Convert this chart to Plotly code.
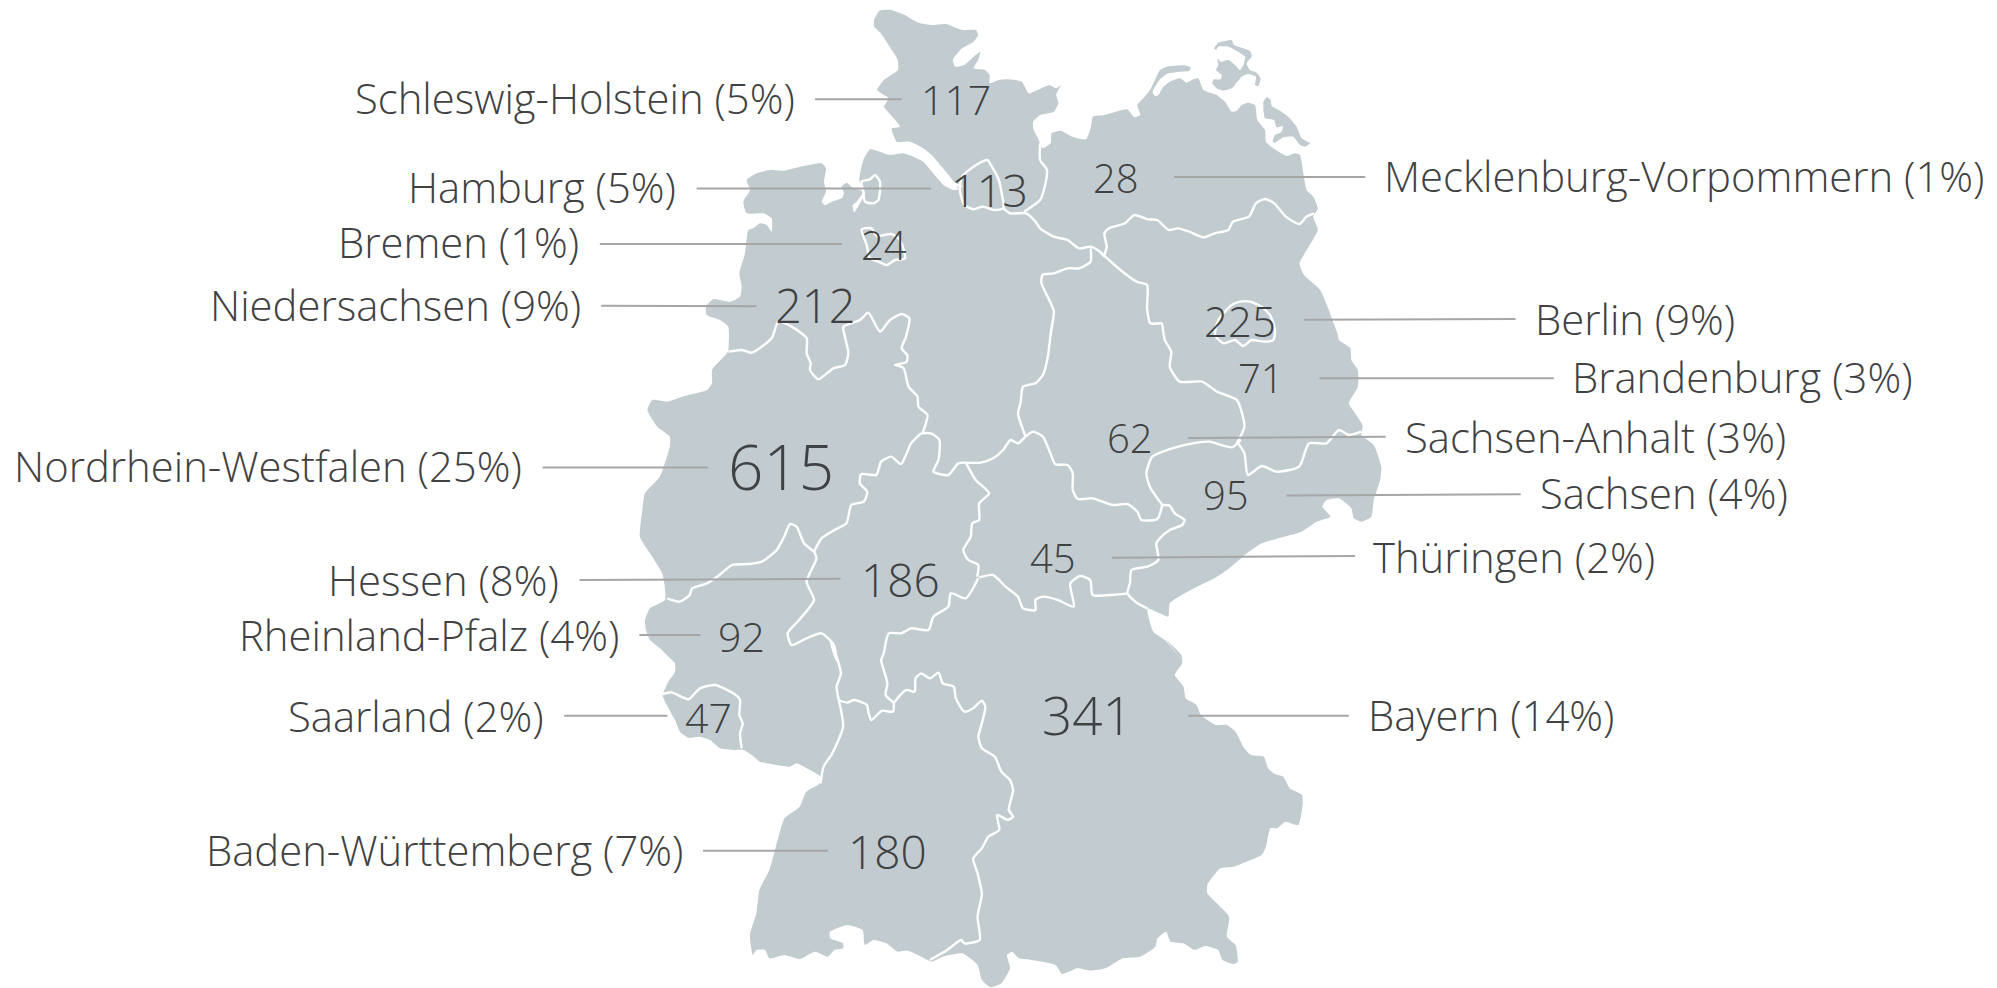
import plotly.graph_objects as go

# ---- statistics ----
STATES = ["Schleswig-Holstein", "Hamburg", "Bremen", "Niedersachsen", "Nordrhein-Westfalen", "Hessen",
          "Rheinland-Pfalz", "Saarland", "Baden-Württemberg", "Mecklenburg-Vorpommern", "Berlin",
          "Brandenburg", "Sachsen-Anhalt", "Sachsen", "Thüringen", "Bayern"]
COUNTS = [117, 113, 24, 212, 615, 186, 92, 47, 180, 28, 225, 71, 62, 95, 45, 341]
SHARES = [5, 5, 1, 9, 25, 8, 4, 2, 7, 1, 9, 3, 3, 4, 2, 14]

# ---- label layout, in page pixels (reference 1568-wide view, scaled below) ----
SIDE = ["l", "l", "l", "l", "l", "l", "l", "l", "l", "r", "r", "r", "r", "r", "r", "r"]
LABEL_X = [624, 531, 455, 456, 410, 439, 486, 427, 536, 1087, 1205, 1234, 1103, 1209, 1078, 1074]
LABEL_Y = [78, 148, 191, 240, 367, 456, 499, 563, 668, 139, 251, 297, 344, 388, 438, 562]
NUM_X = [751, 777, 694, 640, 613, 707, 582, 556, 697, 876, 974, 990, 887, 963, 827, 853.5]
NUM_Y = [78, 149, 192, 239.5, 366, 454.5, 499, 563, 668, 139.5, 251.5, 296.5, 343.5, 388.5, 438, 561]
NUM_SIZE = [41, 45, 40, 47, 62, 46, 41, 41, 46, 40, 42, 40, 40, 40, 40, 53]
LEAD_X0 = [640, 547, 471, 472, 426, 455, 502, 443, 552, 922, 1024, 1036, 933, 1010, 873, 933]
LEAD_X1 = [708, 731, 661, 594, 556, 660, 550, 524, 650, 1072, 1190, 1220, 1088, 1194, 1064, 1059]
LEAD_Y0 = [78, 148, 191.5, 240, 367, 455.5, 498.5, 562, 668, 139, 251, 297, 344, 389, 438, 562]
LEAD_Y1 = [78, 148, 191.5, 240.5, 367, 454.5, 498.5, 562, 668, 139, 250.5, 297, 343, 388, 436.5, 562]

# ---- outline tracing frames: origin x, origin y, x scale, y scale ----
F1 = (620, 0, 2.178, 3)
F2 = (620, 320, 2.01, 3)
F3 = (700, 640, 2.306, 3)
F5 = (620, 560, 3, 3)
F6 = (700, 130, 3, 3)
F7 = (1130, 20, 3, 3)
F8 = (1180, 280, 3, 3)

def t(frame, pts):
    ox, oy, sx, sy = frame
    return [(ox + a / sx, oy + b / sy) for a, b in pts]

# ---- coast, clockwise from the north tip ----
COAST_NORTH = [(553,60),(565,32),(590,30),(620,45),(650,68),(680,75),(710,72),(745,90),(775,90),(780,105),(770,125),(745,145),(725,180),(730,200),(750,195),(770,170),(785,155),(780,180),(770,205),(795,210),(805,225),(805,250),(825,240),(845,238),(875,245),(890,280),(910,270),(935,255),(950,265),(960,255),(950,285),(955,310),(945,335),(915,345),(900,365),(900,385),(912,420),(920,445),(938,430),(940,400),(960,392),(985,410),(1015,418),(1025,385),(1030,350),(1055,345),(1080,335),(1105,328),(1120,352),(1133,345)]
COAST_DARSS = [(30,280),(22,255),(40,235),(60,210),(75,180),(90,150),(110,140),(160,136),(182,142),(178,152),(150,155),(115,160),(90,178),(68,215),(75,228),(85,225),(100,200),(120,185),(150,175),(170,188),(190,178),(205,175),(220,210),(260,225),(285,245),(305,275),(320,272),(335,255),(355,248),(375,255),(382,300),(405,330),(408,365),(430,385),(470,408),(495,400),(510,405),(520,460),(530,510)]
COAST_ODER_A = [(1510,590),(1520,625),(1510,650),(1520,690),(1500,740),(1480,790),(1490,825),(1525,870)]
COAST_ODER_B = [(1442,40),(1445,60),(1468,85),(1470,120),(1483,150),(1483,200),(1465,250),(1480,285),(1493,318),(1490,345),(1515,375),(1530,440),(1528,480),(1515,540),(1510,590),(1490,605),(1475,595),(1470,565),(1445,535),(1420,540),(1412,560),(1428,590),(1400,605),(1370,635),(1335,650),(1290,670),(1260,700),(1225,745),(1195,775),(1160,800),(1135,820),(1105,850),(1102,890),(1085,880),(1060,865),(1072,935),(1095,960),(1130,1020)]
COAST_SOUTH = [(1075,0),(1110,45),(1112,70),(1095,105),(1115,140),(1120,175),(1145,195),(1155,225),(1190,255),(1215,255),(1235,275),(1255,325),(1270,345),(1300,350),(1310,385),(1325,402),(1345,410),(1360,445),(1388,465),(1390,490),(1380,555),(1350,545),(1330,565),(1315,565),(1305,620),(1295,645),(1260,665),(1230,680),(1200,685),(1170,735),(1170,760),(1220,830),(1215,890),(1235,915),(1240,965),(1230,972),(1205,960),(1195,930),(1165,918),(1140,930),(1115,910),(1085,905),(1075,875),(1055,895),(1050,920),(1015,950),(975,955),(935,985),(900,992),(870,985),(835,1002),(820,975),(765,960),(735,955),(720,935),(708,945),(715,985),(695,1030),(670,1042),(650,1020),(640,975),(605,940),(560,950),(535,965),(525,960),(480,932),(455,935),(430,910),(400,900),(380,915),(375,870),(340,855),(300,875),(300,895),(330,910),(330,925),(310,930),(295,950),(265,935),(230,957),(195,945),(160,955),(150,930),(130,930),(122,945),(115,885),(130,820),(137,750),(160,690),(175,620),(195,535),(230,500),(245,455),(275,432),(278,410)]
COAST_SW = [(560,625),(530,610),(510,620),(470,615),(420,605),(395,585),(370,570),(340,570),(300,565),(270,540),(240,530),(205,533),(180,515),(165,480),(135,425),(128,405),(145,365),(165,335),(165,310),(150,295),(120,265),(90,240),(78,210),(75,180),(90,145),(135,120)]
COAST_WEST = [(90,800),(85,760),(65,710),(40,650),(45,570),(50,520),(80,470),(100,380),(100,350),(75,320),(55,270),(65,240),(95,245),(130,228),(175,210),(185,190),(185,150),(215,100)]
COAST_NW = [(85,660),(85,590),(60,570),(20,555),(18,530),(40,507),(90,515),(120,500),(125,470),(118,430),(135,370),(145,300),(160,295),(180,280),(200,285),(215,305),(215,265),(190,250),(140,250),(130,215),(150,180),(140,150),(170,130),(210,120),(250,122),(310,108),(365,100),(378,115),(372,155),(378,185),(365,215),(375,225),(395,215),(425,205),(432,190),(425,170),(440,158),(460,175),(490,185),(470,215),(458,225),(462,248),(480,220),(495,190),(478,150),(490,90),(510,58),(530,62),(570,75),(610,70),(640,80),(670,95),(700,130),(730,165),(760,180),(775,178),(750,140),(725,110),(700,80),(670,55),(630,35),(590,35),(575,0)]
COAST_SH_WEST = [(592,385),(610,380),(590,345),(575,320),(585,295),(560,270),(575,240),(605,210),(605,180),(585,135),(568,100),(553,80)]
RUEGEN = [(252,85),(265,68),(290,62),(305,60),(312,75),(340,85),(362,95),(365,110),(350,130),(360,150),(380,158),(392,175),(385,198),(375,195),(378,170),(355,162),(335,170),(322,185),(305,205),(280,212),(260,205),(247,190),(252,178),(272,178),(275,165),(258,150),(265,135),(262,115),(272,125),(295,120),(315,135),(330,150),(340,135),(345,110),(325,95),(295,80),(265,80),(258,90)]
USEDOM = [(400,245),(410,232),(422,240),(425,258),(450,272),(475,290),(500,320),(515,355),(540,370),(525,380),(510,375),(490,350),(460,352),(435,368),(428,365),(435,345),(455,335),(458,318),(440,322),(432,300),(405,295),(400,270)]

# ---- state borders ----
B_HAMBURG = [(745,530),(770,500),(800,480),(810,500),(825,540),(830,570),(835,625),(815,630),(790,620),(770,628),(750,615),(740,570),(745,530)]
B_ELBE_HH = [(725,550),(745,560)]
B_HH_EAST = [(835,625),(850,640),(885,640),(905,665),(915,685),(945,710),(975,720),(1000,745),(1025,740),(1045,755),(1055,770)]
B_SH_MV = [(880,635),(915,600),(925,560),(930,510),(915,480),(915,430)]
B_MV_BB = [(1055,765),(1060,740),(1055,700),(1065,685),(1100,670),(1120,645),(1150,658),(1170,660),(1195,690),(1215,685),(1240,695),(1270,712),(1295,700),(1325,690),(1335,665),(1370,650),(1385,610),(1405,597),(1425,610),(1450,650),(1480,672),(1495,650),(1512,640)]
B_NI_ST_A = [(1025,745),(1025,785),(1000,805),(975,805),(945,820),(920,825),(918,850),(935,900),(945,935),(938,1000)]
B_NI_ST_B = [(870,0),(865,50),(860,110),(850,165),(835,190),(810,200),(805,250),(800,280),(815,350)]
B_NI_TH = [(815,350),(800,370),(785,360),(770,390),(750,415),(725,428),(695,428)]
B_NI_HE = [(695,428),(680,430),(660,465),(630,455),(640,420),(642,360),(625,340),(605,340)]
B_ST_TH = [(815,350),(830,335),(850,350),(865,400),(875,433),(900,435),(910,460),(910,510),(920,537),(950,535),(990,555),(1020,552),(1040,575),(1048,600),(1080,597),(1090,555)]
B_ST_SN = [(1090,555),(1065,500),(1058,460),(1070,410),(1110,385),(1160,368),(1185,365),(1230,382),(1248,360)]
B_TH_SN = [(1090,555),(1105,557),(1115,580),(1135,600),(1130,615),(1105,630),(1085,655),(1078,670),(1082,720),(1060,740),(1028,750),(1025,790),(1020,820),(1040,850),(1060,865)]
B_TH_BY = [(1020,820),(985,825),(950,825),(945,780),(925,768),(905,790),(912,860),(880,840),(850,830),(835,840),(835,870),(810,865),(800,830),(775,800),(750,765),(722,772)]
B_HE_TH = [(695,428),(715,480),(742,520),(722,550),(722,600),(708,610),(705,650),(690,690),(700,720),(720,735),(718,770)]
B_HE_BY_A = [(720,775),(695,835),(665,820),(660,860),(630,890),(620,930),(585,925),(565,940),(540,940),(530,1000),(525,1020)]
B_HE_BY_B = [(418,65),(432,130),(428,165),(447,188)]
B_BW_BY = [(447,188),(475,150),(495,155),(497,115),(510,100),(530,115),(550,98),(560,130),(585,140),(590,175),(610,215),(630,205),(650,182),(658,200),(652,240),(642,290),(650,325),(680,350),(695,395),(715,420),(722,450),(712,510),(722,530),(710,540),(685,525),(690,570),(665,590),(650,625),(630,655),(640,700),(650,762),(640,830),(645,900),(610,910),(602,900),(570,930),(530,960)]
B_HE_BW = [(447,188),(445,215),(420,212),(395,240),(388,215),(385,195),(355,180),(340,188),(320,180)]
B_RP_HE_A = [(320,180),(315,140),(325,100),(315,50),(300,0)]
B_RP_HE_B = [(435,1020),(430,975),(405,940),(375,955),(345,975),(337,940),(360,900),(390,840),(375,785),(395,715),(390,695)]
B_RP_BW = [(320,180),(330,260),(305,340),(285,380),(278,430)]
B_RP_SL = [(128,402),(155,397),(205,418),(240,385),(285,375),(340,400),(360,420),(358,465),(368,490),(360,520),(365,565)]
B_NW_HE = [(605,340),(585,370),(565,432),(545,410),(525,425),(515,465),(485,462),(482,490),(497,515),(490,545),(465,555),(455,610),(425,635),(405,655),(390,695)]
B_NW_RP = [(390,695),(370,670),(355,620),(342,612),(330,650),(315,690),(285,725),(260,732),(225,735),(200,765),(175,790),(145,805),(140,825),(120,845),(95,835)]
B_NI_NW_A = [(85,665),(125,660),(155,668),(215,625),(235,575),(275,590),(320,625),(320,670),(332,700),(330,720),(355,748),(400,715),(435,705),(445,670),(430,600),(430,590),(480,570),(505,548),(540,605),(570,570),(605,552),(628,565),(618,620),(605,655),(622,675),(620,695),(585,705)]
B_NI_NW_B = [(555,135),(570,145),(580,200),(598,230),(600,260),(618,285),(608,340)]
B_BREMEN = [(485,298),(515,295),(530,318),(575,312),(600,330),(615,385),(585,390),(560,405),(535,395),(510,385),(500,345),(485,298)]
B_BREMERHAVEN = [(485,155),(510,148),(525,135),(540,155),(535,210),(520,220),(495,215),(490,185),(485,155)]
B_BERLIN = [(105,165),(115,120),(155,75),(180,65),(210,65),(245,80),(270,105),(285,150),(280,180),(250,185),(215,180),(190,198),(165,180),(130,190),(105,165)]
B_BB_ST_A = [(1045,755),(1090,810),(1125,845),(1148,855),(1148,925),(1155,970),(1180,970)]
B_BB_ST_B = [(1090,15),(1095,60),(1108,95),(1105,140),(1125,185),(1170,185),(1200,215),(1240,240),(1255,320),(1240,370)]
B_BB_SN = [(1240,365),(1255,400),(1262,465),(1290,438),(1320,455),(1365,440),(1385,370),(1420,370),(1445,330),(1465,345),(1490,335)]

LAND = "#c2ccd0"
INK = "#404142"
RULE = "#a6a6a6"
SCALE = 1997 / 1568

main = (t(F1, COAST_NORTH) + t(F7, COAST_DARSS) + t(F1, COAST_ODER_A) + t(F2, COAST_ODER_B)
        + t(F3, COAST_SOUTH) + t(F5, COAST_SW) + t(F2, COAST_WEST) + t(F6, COAST_NW) + t(F1, COAST_SH_WEST))
polys = [main, t(F7, RUEGEN), t(F7, USEDOM)]
borders = [
    t(F1, B_HAMBURG), t(F1, B_ELBE_HH), t(F1, B_HH_EAST), t(F1, B_SH_MV), t(F1, B_MV_BB),
    t(F1, B_NI_ST_A) + t(F2, B_NI_ST_B), t(F2, B_NI_TH), t(F2, B_NI_HE), t(F2, B_ST_TH), t(F2, B_ST_SN),
    t(F2, B_TH_SN), t(F2, B_TH_BY), t(F2, B_HE_TH), t(F2, B_HE_BY_A) + t(F3, B_HE_BY_B), t(F3, B_BW_BY),
    t(F3, B_HE_BW), t(F3, B_RP_HE_A) + t(F2, B_RP_HE_B), t(F3, B_RP_BW), t(F5, B_RP_SL), t(F2, B_NW_HE),
    t(F2, B_NW_RP), t(F6, B_NI_NW_A) + t(F2, B_NI_NW_B), t(F6, B_BREMEN), t(F6, B_BREMERHAVEN), t(F8, B_BERLIN),
    t(F1, B_BB_ST_A) + t(F2, B_BB_ST_B), t(F2, B_BB_SN),
]

def flat(paths):
    xs, ys = [], []
    for p in paths:
        xs += [a for a, _ in p] + [None]
        ys += [b for _, b in p] + [None]
    return xs, ys

fig = go.Figure()
x, y = flat(polys)
fig.add_trace(go.Scatter(x=x, y=y, mode="lines", fill="toself", fillcolor=LAND,
                         line=dict(width=0, color=LAND, shape="spline", smoothing=0.5), hoverinfo="skip", name="Deutschland"))
x, y = flat(borders)
fig.add_trace(go.Scatter(x=x, y=y, mode="lines", line=dict(color="white", width=2.4, shape="spline", smoothing=0.6),
                         hoverinfo="skip", name="Grenzen", connectgaps=False))
lx, ly = [], []
for a, b, c, d in zip(LEAD_X0, LEAD_X1, LEAD_Y0, LEAD_Y1):
    lx += [a * SCALE, b * SCALE, None]
    ly += [c * SCALE, d * SCALE, None]
fig.add_trace(go.Scatter(x=lx, y=ly, mode="lines", line=dict(color=RULE, width=2), hoverinfo="skip", name="Linien"))

FONT = "Open Sans, sans-serif"
for i, s in enumerate(STATES):
    fig.add_annotation(x=LABEL_X[i] * SCALE, y=LABEL_Y[i] * SCALE, text=f"{s} ({SHARES[i]}%)", showarrow=False,
                       xanchor="right" if SIDE[i] == "l" else "left", yanchor="middle",
                       xshift=2 if SIDE[i] == "l" else -2, yshift=1.5,
                       font=dict(family=FONT, size=41.8, color=INK, weight=300))
    fig.add_annotation(x=NUM_X[i] * SCALE, y=NUM_Y[i] * SCALE, text=str(COUNTS[i]), showarrow=False,
                       xanchor="center", yanchor="middle", font=dict(family=FONT, size=NUM_SIZE[i], color=INK, weight=300))

fig.update_layout(width=1997, height=988, margin=dict(l=0, r=0, t=0, b=0), showlegend=False,
                  plot_bgcolor="white", paper_bgcolor="white",
                  xaxis=dict(range=[0, 1997], visible=False, fixedrange=True),
                  yaxis=dict(range=[988, 0], visible=False, fixedrange=True))
fig.write_html("out.html", config={"displayModeBar": False},
               post_script="document.body.style.margin='0';document.body.style.overflow='hidden';")
